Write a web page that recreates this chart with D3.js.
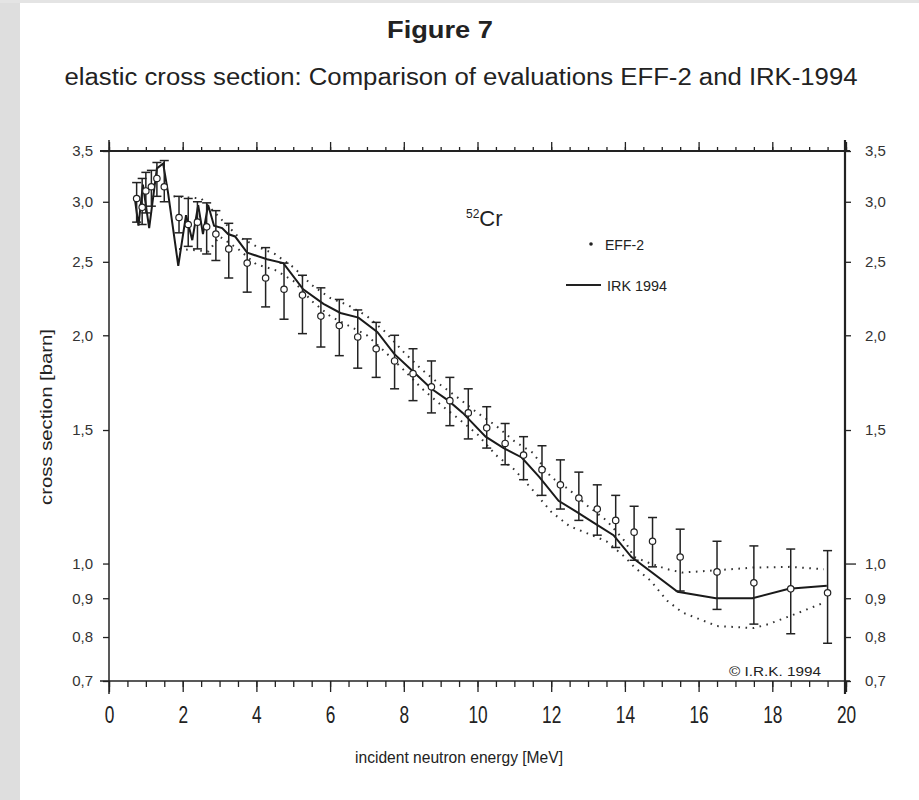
<!DOCTYPE html>
<html lang="en">
<head>
<title>Figure 7</title>
<meta charset="utf-8">
<script src="https://d3js.org/d3.v7.min.js"></script>
<style>
	body { margin: 0; background: #fff; }
	text { font-family: "Liberation Sans", Arial, sans-serif; fill: #222; }
</style>
</head>
<body>
<div id="chart"></div>

<script type="text/javascript">
	// EFF-2 points with error bars (energy MeV, cross section barn)
	var eff_energy = [0.75, 0.9, 1.0, 1.15, 1.3, 1.5, 1.9, 2.15, 2.4, 2.65, 2.9, 3.25, 3.75, 4.25, 4.75, 5.25, 5.75,
		6.25, 6.75, 7.25, 7.75, 8.25, 8.75, 9.25, 9.75, 10.25, 10.75, 11.25, 11.75, 12.25, 12.75, 13.25,
		13.75, 14.25, 14.75, 15.5, 16.5, 17.5, 18.5, 19.5];
	var eff_value = [3.03, 2.95, 3.10, 3.14, 3.22, 3.14, 2.86, 2.80, 2.82, 2.78, 2.72, 2.60, 2.49, 2.38, 2.30, 2.26, 2.12,
		2.06, 1.99, 1.92, 1.85, 1.78, 1.71, 1.64, 1.58, 1.51, 1.44, 1.39, 1.33, 1.27, 1.22, 1.18,
		1.14, 1.10, 1.07, 1.02, 0.975, 0.943, 0.926, 0.915];
	var eff_upper = [3.18, 3.22, 3.28, 3.30, 3.38, 3.40, 3.05, 3.03, 3.00, 2.99, 2.92, 2.81, 2.68, 2.61, 2.49, 2.40, 2.31,
		2.23, 2.16, 2.08, 2.00, 1.92, 1.85, 1.76, 1.70, 1.61, 1.53, 1.47, 1.43, 1.37, 1.32, 1.27,
		1.23, 1.19, 1.15, 1.11, 1.07, 1.055, 1.045, 1.04];
	var eff_lower = [2.82, 2.80, 2.90, 2.96, 3.05, 3.00, 2.73, 2.62, 2.60, 2.56, 2.51, 2.38, 2.28, 2.18, 2.10, 2.01, 1.93,
		1.88, 1.81, 1.76, 1.70, 1.64, 1.58, 1.52, 1.46, 1.42, 1.35, 1.29, 1.23, 1.18, 1.14, 1.09,
		1.05, 1.01, 0.99, 0.92, 0.87, 0.832, 0.808, 0.785];

	// IRK 1994 evaluation (solid line)
	var irk_energy = [0.7, 0.8, 0.92, 1.09, 1.3, 1.47, 1.6, 1.88, 2.09, 2.26, 2.42, 2.55, 2.69, 2.85, 3.07, 3.23, 3.42,
		3.75, 4.29, 4.73, 5.27, 5.82, 6.28, 6.77, 7.28, 7.74, 8.26, 8.75, 9.21, 9.6, 10.22, 10.71, 11.2,
		11.68, 12.2, 12.69, 13.18, 13.69, 14.18, 15.43, 16.47, 17.46, 18.45, 19.48];
	var irk_value = [3.03, 2.79, 3.16, 2.77, 3.32, 3.37, 3.09, 2.47, 2.88, 2.67, 2.97, 2.72, 2.97, 2.79, 2.77, 2.72, 2.70,
		2.57, 2.52, 2.49, 2.30, 2.20, 2.14, 2.11, 2.02, 1.89, 1.79, 1.70, 1.64, 1.58, 1.47, 1.42, 1.38,
		1.30, 1.21, 1.17, 1.13, 1.09, 1.02, 0.918, 0.90, 0.90, 0.926, 0.935];

	// dotted uncertainty band
	var band_hi_energy = [1.75, 2.5, 3.0, 3.5, 4.0, 4.5, 5.0, 5.5, 6.0, 6.5, 7.0, 7.5, 8.0, 8.5, 9.0, 9.5, 10.0, 10.5,
		11.0, 11.5, 12.0, 12.5, 13.0, 13.5, 14.0, 14.25, 14.7, 15.15, 15.56, 16.5, 17.5, 18.5, 19.4];
	var band_hi_value = [3.05, 3.03, 2.86, 2.70, 2.62, 2.56, 2.46, 2.33, 2.24, 2.19, 2.12, 2.02, 1.90, 1.80, 1.72, 1.65, 1.58, 1.52,
		1.45, 1.40, 1.30, 1.25, 1.19, 1.14, 1.07, 1.02, 1.00, 0.983, 0.973, 0.98, 0.988, 0.99, 0.983];
	var band_lo_energy = [1.9, 2.7, 3.0, 3.5, 4.0, 4.5, 5.0, 5.5, 6.0, 6.5, 7.0, 7.5, 8.0, 8.5, 9.0, 9.5, 10.0, 10.5,
		11.0, 11.5, 12.0, 12.5, 13.0, 13.5, 14.0, 14.25, 14.7, 15.15, 15.56, 16.5, 17.5, 17.9, 18.6, 19.4];
	var band_lo_value = [2.60, 2.58, 2.70, 2.60, 2.48, 2.44, 2.36, 2.22, 2.12, 2.06, 2.00, 1.90, 1.80, 1.70, 1.62, 1.55, 1.48, 1.39,
		1.33, 1.25, 1.17, 1.12, 1.095, 1.07, 1.02, 0.99, 0.949, 0.893, 0.862, 0.827, 0.822, 0.832, 0.857, 0.888];

	var y_ticks = [0.7, 0.8, 0.9, 1.0, 1.5, 2.0, 2.5, 3.0, 3.5];
	var x_ticks = [0, 2, 4, 6, 8, 10, 12, 14, 16, 18, 20];

	var W = 919, H = 800;
	var svg = d3.select("#chart").append("svg")
		.attr("width", W)
		.attr("height", H);

	// scan border
	svg.append("rect").attr("x", 0).attr("y", 0).attr("width", 20).attr("height", H).style("fill", "#dedede");
	svg.append("rect").attr("x", 0).attr("y", 0).attr("width", W).attr("height", 3).style("fill", "#e4e4e4");

	var x = d3.scaleLinear().domain([0, 20]).range([109, 846]);
	var y = d3.scaleLog().domain([0.7, 3.5]).range([681, 151]);
	var comma = function(d){ return d3.format(".1f")(d).replace(".", ","); };
	var minor = d3.range(0, 20.01, 0.5);

	// condensed look of the scanned lettering
	function narrow(sel, k){
		sel.attr("transform", function(){
			var t = d3.select(this).attr("transform");
			return (t ? t + " " : "") + "scale(" + k + ",1)";
		});
	}

	// titles
	svg.append("text")
		.attr("x", 440).attr("y", 38)
		.attr("text-anchor", "middle")
		.style("font-size", "23px").style("font-weight", "bold")
		.attr("textLength", 106).attr("lengthAdjust", "spacingAndGlyphs")
		.text("Figure  7");
	svg.append("text")
		.attr("x", 461).attr("y", 85)
		.attr("text-anchor", "middle")
		.style("font-size", "23px")
		.attr("textLength", 793).attr("lengthAdjust", "spacingAndGlyphs")
		.text("elastic cross section: Comparison of evaluations EFF-2 and IRK-1994");

	// frame lines
	var frame = svg.append("g").style("stroke", "#222").style("fill", "none");
	frame.append("line").attr("x1", 100).attr("x2", 850).attr("y1", y(3.5)).attr("y2", y(3.5)).style("stroke-width", 2);
	frame.append("line").attr("x1", 100).attr("x2", 850).attr("y1", y(0.7)).attr("y2", y(0.7)).style("stroke-width", 1.5);
	frame.append("line").attr("x1", x(0)).attr("x2", x(0)).attr("y1", 140).attr("y2", 694).style("stroke-width", 1.5);
	frame.append("line").attr("x1", x(20) - 1).attr("x2", x(20) - 1).attr("y1", 140).attr("y2", 694).style("stroke-width", 2.2);

	// top axis ticks
	svg.append("g").attr("transform", "translate(0," + y(3.5) + ")")
		.call(d3.axisTop(x).tickValues(minor).tickSize(4).tickFormat(""));
	svg.append("g").attr("transform", "translate(0," + y(3.5) + ")")
		.call(d3.axisTop(x).tickValues(x_ticks).tickSize(9).tickFormat(""));

	// bottom axis
	svg.append("g").attr("transform", "translate(0," + y(0.7) + ")")
		.call(d3.axisBottom(x).tickValues(minor).tickSize(6).tickFormat(""));
	var xb = svg.append("g").attr("transform", "translate(0," + y(0.7) + ")")
		.call(d3.axisBottom(x).tickValues(x_ticks).tickSize(11).tickPadding(14));
	xb.selectAll("text").style("font-size", "24px").style("font-family", null).style("fill", "#222");
	narrow(xb.selectAll("text"), 0.72);

	// left axis
	var yl = svg.append("g").attr("transform", "translate(" + x(0) + ",0)")
		.call(d3.axisLeft(y).tickValues(y_ticks).tickSize(6).tickPadding(10).tickFormat(comma));
	yl.selectAll("text").style("font-size", "15px").style("font-family", null).style("fill", "#333");

	// right axis
	var yr = svg.append("g").attr("transform", "translate(" + (x(20) - 1) + ",0)")
		.call(d3.axisRight(y).tickValues(y_ticks).tickSize(6).tickPadding(14).tickFormat(comma));
	yr.selectAll("text").style("font-size", "15px").style("font-family", null).style("fill", "#333");
	yr.selectAll(".tick").filter(function(d){ return d == 1.0; }).select("line").attr("x2", 11).style("stroke-width", 2);

	svg.selectAll(".domain").remove();
	svg.selectAll(".tick line").style("stroke", "#222").style("stroke-width", 1.3);

	// axis titles
	svg.append("text")
		.attr("x", 459).attr("y", 763)
		.attr("text-anchor", "middle")
		.style("font-size", "17px")
		.attr("textLength", 208).attr("lengthAdjust", "spacingAndGlyphs")
		.text("incident neutron energy [MeV]");
	svg.append("text")
		.attr("transform", "translate(52,417) rotate(-90)")
		.attr("text-anchor", "middle")
		.style("font-size", "17px")
		.attr("textLength", 176).attr("lengthAdjust", "spacingAndGlyphs")
		.text("cross section [barn]");

	// dotted band
	var bandLine = d3.line()
		.x(function(d){ return x(d[0]); })
		.y(function(d){ return y(d[1]); });
	[[band_hi_energy, band_hi_value], [band_lo_energy, band_lo_value]].forEach(function(b){
		svg.append("path")
			.datum(d3.zip(b[0], b[1]))
			.attr("d", bandLine)
			.style("fill", "none")
			.style("stroke", "#333")
			.style("stroke-width", 2)
			.style("stroke-dasharray", "1.6,5.5");
	});

	// IRK solid line
	svg.append("path")
		.datum(d3.zip(irk_energy, irk_value))
		.attr("d", bandLine)
		.style("fill", "none")
		.style("stroke", "#1a1a1a")
		.style("stroke-width", 2);

	// EFF-2 error bars
	var eff = eff_energy.map(function(e, i){
		return {e: e, v: eff_value[i], hi: eff_upper[i], lo: eff_lower[i]};
	});
	var bars = svg.append("g").style("stroke", "#222").style("stroke-width", 1.5);
	bars.selectAll(".bar").data(eff).enter().append("line")
		.attr("x1", function(d){ return x(d.e); }).attr("x2", function(d){ return x(d.e); })
		.attr("y1", function(d){ return y(d.hi); }).attr("y2", function(d){ return y(d.lo); });
	bars.selectAll(".capt").data(eff).enter().append("line")
		.attr("x1", function(d){ return x(d.e) - 4.5; }).attr("x2", function(d){ return x(d.e) + 4.5; })
		.attr("y1", function(d){ return y(d.hi); }).attr("y2", function(d){ return y(d.hi); });
	bars.selectAll(".capb").data(eff).enter().append("line")
		.attr("x1", function(d){ return x(d.e) - 4.5; }).attr("x2", function(d){ return x(d.e) + 4.5; })
		.attr("y1", function(d){ return y(d.lo); }).attr("y2", function(d){ return y(d.lo); });
	svg.append("g").selectAll("circle").data(eff).enter().append("circle")
		.attr("cx", function(d){ return x(d.e); })
		.attr("cy", function(d){ return y(d.v); })
		.attr("r", 3.2)
		.style("fill", "#fff")
		.style("stroke", "#222")
		.style("stroke-width", 1.2);

	// nuclide label
	var lab = svg.append("text").attr("x", 466).attr("y", 226).style("font-size", "22px");
	lab.append("tspan").attr("dy", -8).style("font-size", "12px").text("52");
	lab.append("tspan").attr("dy", 8).text("Cr");
	narrow(lab, 1);

	// legend
	svg.append("circle").attr("cx", 591).attr("cy", 244).attr("r", 1.8).style("fill", "#222");
	svg.append("text").attr("x", 605).attr("y", 250).style("font-size", "15px")
		.attr("textLength", 39).attr("lengthAdjust", "spacingAndGlyphs").text("EFF-2");
	svg.append("line").attr("x1", 566).attr("x2", 601).attr("y1", 285).attr("y2", 285)
		.style("stroke", "#222").style("stroke-width", 2);
	svg.append("text").attr("x", 607).attr("y", 291).style("font-size", "15px")
		.attr("textLength", 60).attr("lengthAdjust", "spacingAndGlyphs").text("IRK 1994");

	svg.append("text").attr("x", 729).attr("y", 676).style("font-size", "12px")
		.attr("textLength", 92).attr("lengthAdjust", "spacingAndGlyphs").text("\u00a9 I.R.K. 1994");
</script>

</body>
</html>
